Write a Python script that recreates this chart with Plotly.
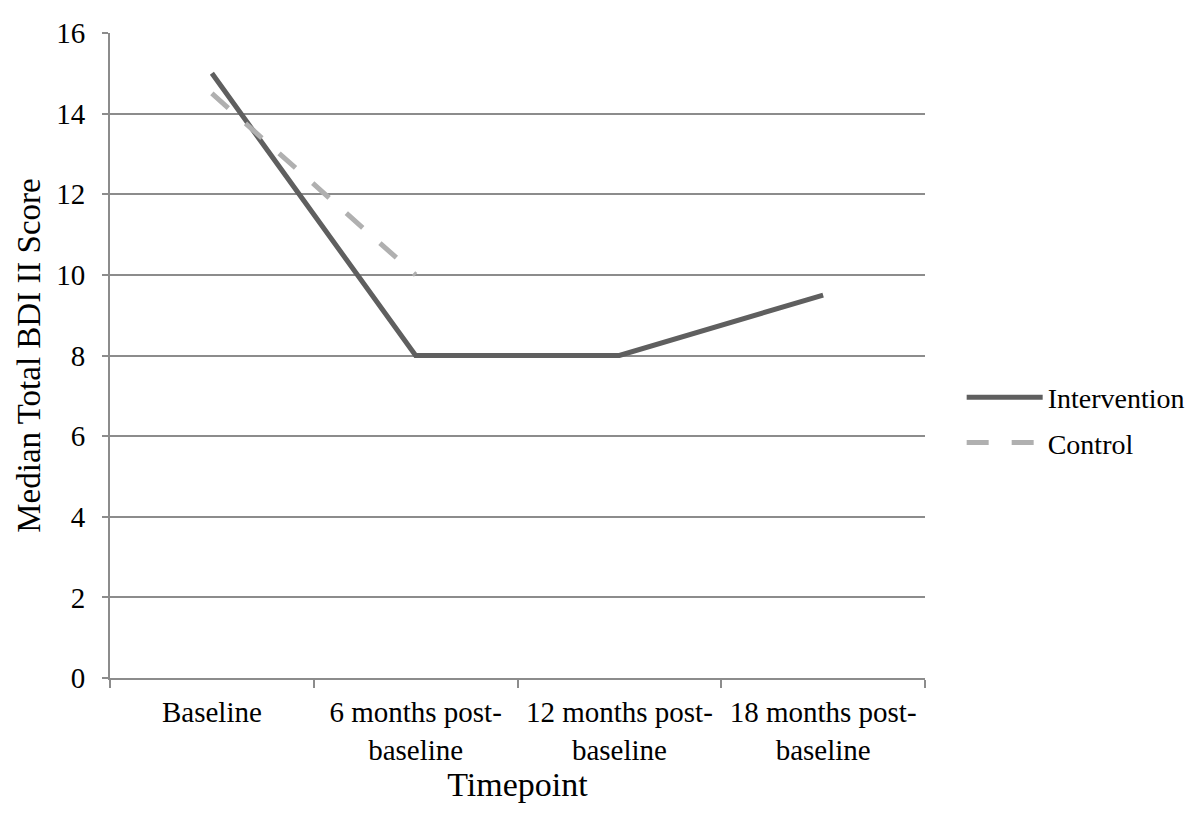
import plotly.graph_objects as go

timepoints = ["Baseline", "6 months post-<br>baseline", "12 months post-<br>baseline",
              "18 months post-<br>baseline"]
intervention = [15, 8, 8, 9.5]
control = [14.5, 10]

font_family = "Liberation Serif, Times New Roman, serif"
grid_grey = "#8c8c8c"

fig = go.Figure()
fig.add_trace(go.Scatter(
    x=timepoints, y=intervention, name="Intervention", mode="lines",
    legendgroup="a", line=dict(color="#5f5f5f", width=5),
))
fig.add_trace(go.Scatter(
    x=timepoints[:2], y=control, name="Control", mode="lines",
    legendgroup="b", line=dict(color="#b0b0b0", width=5, dash="22px,23px"),
))

# page body has an 8px margin, so the figure is a little smaller than the window
fig.update_layout(
    width=1192, height=820,
    margin=dict(l=102, r=275, t=25, b=150, autoexpand=False),
    paper_bgcolor="white", plot_bgcolor="white",
    font=dict(family=font_family, size=29, color="black"),
    legend=dict(x=1.045, y=0.4, xanchor="left", yanchor="middle",
                font=dict(size=28), tracegroupgap=6, itemwidth=76),
    showlegend=True,
)
fig.update_xaxes(
    type="category", tickson="boundaries", ticks="outside", ticklen=8,
    tickcolor=grid_grey, tickwidth=2,
    showline=True, linecolor=grid_grey, linewidth=2,
    showgrid=False, range=[-0.5, 3.5], ticklabelstandoff=7,
    title=dict(text="Timepoint", font=dict(size=34), standoff=8),
)
fig.update_yaxes(
    range=[0, 16], dtick=2, ticks="outside", ticklen=6,
    tickcolor=grid_grey, tickwidth=2,
    showline=True, linecolor=grid_grey, linewidth=2,
    showgrid=True, gridcolor=grid_grey, gridwidth=2,
    zeroline=False, ticklabelstandoff=11,
    title=dict(text="Median Total BDI II Score", font=dict(size=33), standoff=6),
)

fig.write_html("out.html")
